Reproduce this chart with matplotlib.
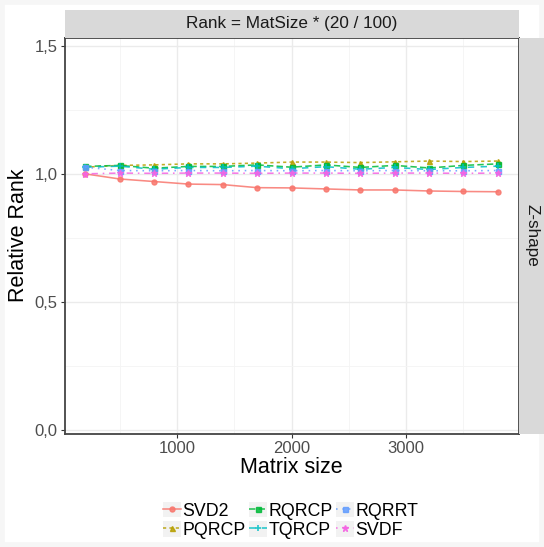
import matplotlib
matplotlib.use('Agg')
import matplotlib.pyplot as plt
from matplotlib.patches import Rectangle
from matplotlib.lines import Line2D
from matplotlib.legend_handler import HandlerLine2D
from matplotlib.ticker import FixedLocator, FuncFormatter

plt.rcParams['font.family'] = ['Liberation Sans', 'DejaVu Sans']

# Data
mat_size = [200, 500, 800, 1100, 1400, 1700, 2000, 2300, 2600, 2900, 3200, 3500, 3800]
svd2 = [1.000, 0.980, 0.970, 0.960, 0.958, 0.946, 0.945, 0.941, 0.937, 0.937, 0.933, 0.931, 0.930]
pqrcp = [1.026, 1.033, 1.035, 1.039, 1.039, 1.042, 1.046, 1.046, 1.044, 1.047, 1.050, 1.048, 1.050]
rqrcp = [1.029, 1.033, 1.022, 1.029, 1.029, 1.035, 1.026, 1.035, 1.025, 1.033, 1.023, 1.033, 1.039]
tqrcp = [1.026, 1.030, 1.018, 1.025, 1.025, 1.030, 1.020, 1.028, 1.018, 1.025, 1.017, 1.025, 1.030]
rqrrt = [1.026, 1.013, 1.012, 1.013, 1.012, 1.013, 1.012, 1.013, 1.012, 1.013, 1.012, 1.012, 1.013]
svdf = [1.000, 1.003, 1.002, 1.003, 1.003, 1.002, 1.003, 1.003, 1.002, 1.003, 1.003, 1.002, 1.003]

methods = ['SVD2', 'PQRCP', 'RQRCP', 'TQRCP', 'RQRRT', 'SVDF']
values = [svd2, pqrcp, rqrcp, tqrcp, rqrrt, svdf]
colors = ['#F8766D', '#B79F00', '#00BA38', '#00BFC4', '#619CFF', '#F564E3']
markers = ['o', '^', 's', '+', 's', '*']
dashes = [None, (2, 2), (4, 2), (4, 4), (1, 3), (1, 3, 4, 3)]

W, H = 544, 547
fig = plt.figure(figsize=(W / 100, H / 100), dpi=100)
fig.patch.set_facecolor('white')

def fx(px):
    return px / W

def fy(py):
    return 1 - py / H

# faint outer frame
fig.patches.append(Rectangle((0, 0), 1, 1, transform=fig.transFigure,
                             fill=False, edgecolor='#f6f6f6', lw=7, zorder=0))

pl, pr, pt, pb = 64.5, 518.5, 37.5, 434
ax = fig.add_axes([fx(pl), fy(pb), fx(pr - pl), fy(pt) - fy(pb)])

def style_line(line, m, d):
    if m == '+':
        line.set_markeredgewidth(1.2)
        line.set_markersize(5)
    if m == '*':
        line.set_markersize(5)
    if d is not None:
        line.set_dashes(d)

for name, vals, c, m, d in zip(methods, values, colors, markers, dashes):
    line, = ax.plot(mat_size, vals, color=c, lw=1.15, marker=m, markersize=3.6,
                    alpha=0.85, label=name)
    style_line(line, m, d)

ax.set_xlim(20, 3980)
ax.set_ylim(-0.017, 1.533)
ax.xaxis.set_major_locator(FixedLocator([1000, 2000, 3000]))
ax.xaxis.set_minor_locator(FixedLocator([500, 1500, 2500, 3500]))
ax.yaxis.set_major_locator(FixedLocator([0, 0.5, 1.0, 1.5]))
ax.yaxis.set_minor_locator(FixedLocator([0.25, 0.75, 1.25]))
ax.yaxis.set_major_formatter(FuncFormatter(lambda v, p: f'{v:.1f}'.replace('.', ',')))
ax.grid(True, which='major', color='#ebebeb', lw=1.0)
ax.grid(True, which='minor', color='#f4f4f4', lw=0.6)
ax.set_axisbelow(True)
ax.tick_params(which='major', length=3, color='#333333', labelsize=12,
               labelcolor='#4d4d4d', pad=2)
ax.tick_params(which='minor', length=0)
for s in ax.spines.values():
    s.set_color('#444444')
    s.set_linewidth(1.3)

ax.set_xlabel('Matrix size', fontsize=15.5, labelpad=1)
ax.set_ylabel('Relative Rank', fontsize=15.5, labelpad=4)

# facet strips
fig.patches.append(Rectangle((fx(pl), fy(pt)), fx(pr - pl), fy(9.5) - fy(pt),
                             transform=fig.transFigure, facecolor='#d9d9d9',
                             edgecolor='none', zorder=1))
fig.text(fx((pl + pr) / 2), fy(23.5), 'Rank = MatSize * (20 / 100)',
         ha='center', va='center', fontsize=12.3, color='#1a1a1a')
fig.patches.append(Rectangle((fx(pr), fy(pb)), fx(W - pr), fy(pt) - fy(pb),
                             transform=fig.transFigure, facecolor='#d9d9d9',
                             edgecolor='none', zorder=1))
fig.text(fx((pr + W) / 2 + 1), fy((pt + pb) / 2), 'Z-shape', rotation=-90,
         ha='center', va='center', fontsize=12.3, color='#1a1a1a')


class KeyHandler(HandlerLine2D):
    # ggplot-style legend key with a light grey box behind it
    def create_artists(self, legend, orig_handle, xdescent, ydescent,
                       width, height, fontsize, trans):
        arts = super().create_artists(legend, orig_handle, xdescent, ydescent,
                                      width, height, fontsize, trans)
        box = Rectangle((-xdescent, -ydescent), width, height,
                        facecolor='#f2f2f2', edgecolor='none', transform=trans)
        return [box] + list(arts)


handles = []
for name, c, m, d in zip(methods, colors, markers, dashes):
    h = Line2D([], [], color=c, lw=1.15, marker=m, markersize=3.6, alpha=0.85)
    style_line(h, m, d)
    handles.append(h)
leg = fig.legend(handles, methods, ncol=3, loc='center',
                 bbox_to_anchor=(fx(290.5), fy(520.5)), frameon=False,
                 fontsize=12.8, handlelength=1.0, handleheight=1.0,
                 handletextpad=0.08, columnspacing=0.2, labelspacing=0.1,
                 borderpad=0, numpoints=1,
                 handler_map={Line2D: KeyHandler(numpoints=1)})

fig.savefig('out.png', dpi=100)
